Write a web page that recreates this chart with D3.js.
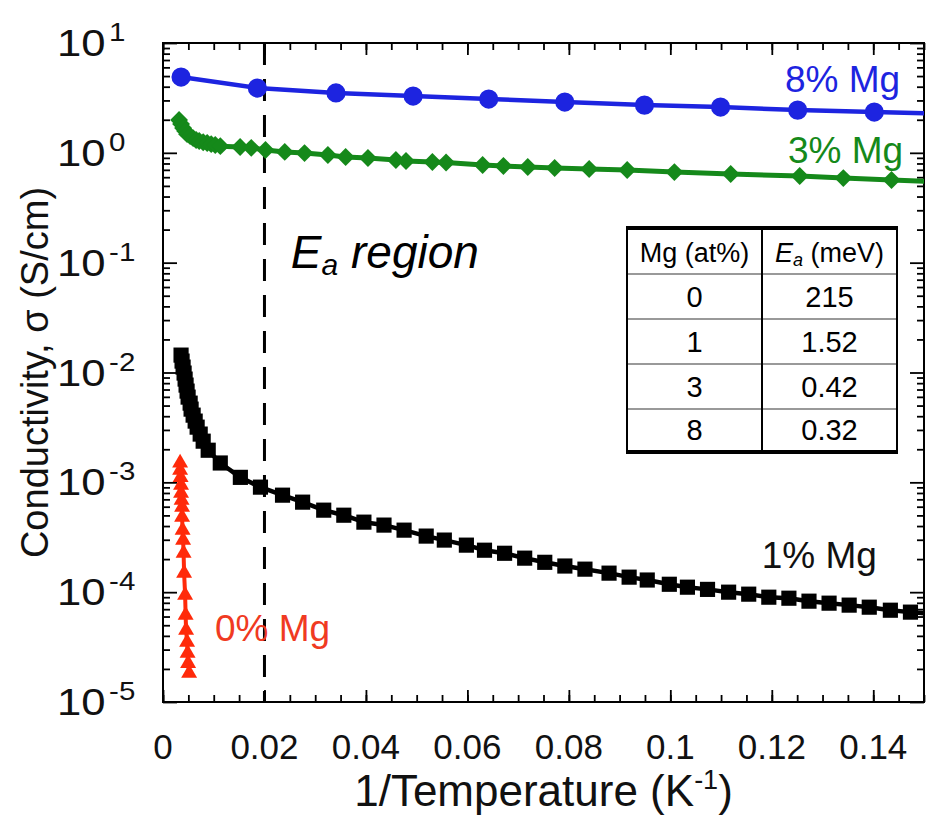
<!DOCTYPE html>
<html>
<head>
<meta charset="utf-8">
<script src="https://cdn.jsdelivr.net/npm/d3@7"></script>
<style>
body{margin:0;background:#fff}
text{font-family:"Liberation Sans",Arial,sans-serif}
</style>
</head>
<body>
<svg id="chart"></svg>
<script>
// 8% Mg (blue circles)
var mg8X=[0.00356,0.0186,0.0341,0.0493,0.0642,0.0792,0.0949,0.1099,0.1251,0.1402,0.1553]
var mg8Y=[4.90,3.89,3.51,3.29,3.09,2.90,2.72,2.61,2.45,2.35,2.27]
// 3% Mg (green diamonds)
var mg3X=[0.00317,0.00356,0.00396,0.00436,0.00475,0.00535,0.00594,0.00653,0.00713,0.00792,0.00871,0.00950,0.0103,0.0113,
  0.0152,0.0174,0.0202,0.0240,0.0279,0.0325,0.0360,0.0404,0.0459,0.0479,0.0531,0.0558,0.0630,0.0671,0.0719,0.0772,
  0.0840,0.0915,0.1008,0.1119,0.1255,0.1341,0.1436,0.1549]
var mg3Y=[1.99,1.83,1.68,1.58,1.48,1.42,1.36,1.31,1.28,1.25,1.23,1.20,1.18,1.15,
  1.13,1.11,1.06,1.02,0.995,0.955,0.916,0.897,0.860,0.842,0.824,0.816,0.774,0.759,0.743,0.727,
  0.712,0.697,0.668,0.641,0.615,0.589,0.565,0.542]
// 1% Mg (black squares)
var mg1X=[0.00356,0.00376,0.00396,0.00416,0.00436,0.00455,0.00475,0.00495,0.00535,0.00554,0.00594,0.00634,0.00673,0.00733,
  0.00792,0.00891,0.01129,0.01525,0.01921,0.02356,0.02752,0.03168,0.03564,0.03960,0.04356,0.04752,0.05188,0.05545,
  0.05980,0.06337,0.06733,0.07129,0.07525,0.07921,0.08317,0.08792,0.09188,0.09545,0.09980,0.10337,0.10733,0.11149,
  0.11545,0.11941,0.12337,0.12733,0.13129,0.13525,0.13921,0.14337,0.14733,0.15188]
var mg1Y=[0.01440,0.01270,0.01120,0.00988,0.00871,0.00768,0.00677,0.00597,0.00526,0.00464,0.00409,0.00361,0.00318,0.00275,
  0.00237,0.00196,0.00150,0.00111,0.000904,0.000764,0.000660,0.000558,0.000502,0.000434,0.000408,0.000367,0.000324,0.000298,
  0.000268,0.000241,0.000226,0.000204,0.000187,0.000173,0.000162,0.000149,0.000137,0.000129,0.000118,0.000111,0.000106,0.000100,
  0.0000959,0.0000900,0.0000881,0.0000828,0.0000794,0.0000762,0.0000730,0.0000685,0.0000658,0.0000631]
// 0% Mg (red triangles)
var mg0X=[0.00337,0.00337,0.00347,0.00356,0.00356,0.00366,0.00376,0.00376,0.00386,0.00396,0.00406,0.00416,0.00436,
  0.00446,0.00455,0.00475,0.00485,0.00495,0.00515]
var mg0Y=[1.50e-3,1.29e-3,1.11e-3,9.42e-4,7.98e-4,6.89e-4,5.94e-4,4.82e-4,3.67e-4,2.98e-4,2.26e-4,1.49e-4,9.39e-5,
  6.18e-5,4.51e-5,3.51e-5,2.78e-5,2.25e-5,1.83e-5]

var seriesNames=["8% Mg","3% Mg","1% Mg","0% Mg"]
var xTicks=[0,0.02,0.04,0.06,0.08,0.1,0.12,0.14]
var xTickLabels=["0","0.02","0.04","0.06","0.08","0.1","0.12","0.14"]
var yExps=[1,0,-1,-2,-3,-4,-5]
var tableHead=["Mg (at%)","(meV)"]
var tableMg=["0","1","3","8"]
var tableEa=["215","1.52","0.42","0.32"]

var W=932,H=825
var m={top:43,left:163,right:8,bottom:123}
var svg=d3.select("#chart").attr("width",W).attr("height",H)

var x=d3.scaleLinear().domain([0,0.15]).range([m.left,W-m.right])
var y=d3.scaleLog().domain([1e-5,10]).range([H-m.bottom,m.top])

svg.append("clipPath").attr("id","clip").append("rect")
  .attr("x",m.left).attr("y",m.top).attr("width",x.range()[1]-m.left).attr("height",y.range()[0]-m.top)

// ticks
var xMinor=d3.range(0,0.1501,0.005)
var yMinor=[]
d3.range(-5,1).forEach(function(e){for(var k=2;k<10;k++)yMinor.push(k*Math.pow(10,e))})
var yMajor=yExps.map(function(e){return Math.pow(10,e)})

function tickAxis(axis,vals,size,tr){
  var g=svg.append("g").attr("transform",tr)
    .call(axis.tickValues(vals).tickSizeInner(size).tickSizeOuter(0).tickFormat(""))
  g.select(".domain").remove()
  g.selectAll(".tick line").attr("stroke","#000").attr("stroke-width",1.8)
}
var yb=y.range()[0], xr=x.range()[1]
tickAxis(d3.axisBottom(x),xMinor,-7,"translate(0,"+yb+")")
tickAxis(d3.axisBottom(x),xTicks,-12,"translate(0,"+yb+")")
tickAxis(d3.axisTop(x),xMinor,-7,"translate(0,"+m.top+")")
tickAxis(d3.axisTop(x),xTicks,-12,"translate(0,"+m.top+")")
tickAxis(d3.axisLeft(y),yMinor,-7,"translate("+m.left+",0)")
tickAxis(d3.axisLeft(y),yMajor,-14,"translate("+m.left+",0)")
tickAxis(d3.axisRight(y),yMinor,-7,"translate("+xr+",0)")
tickAxis(d3.axisRight(y),yMajor,-14,"translate("+xr+",0)")

svg.append("rect").attr("x",m.left).attr("y",m.top)
  .attr("width",xr-m.left).attr("height",yb-m.top)
  .attr("fill","none").attr("stroke","#000").attr("stroke-width",2)

// x tick labels
svg.selectAll(".xl").data(xTicks).enter().append("text")
  .attr("x",function(d){return x(d)}).attr("y",yb+57)
  .attr("text-anchor","middle").attr("font-size",35).attr("fill","#111")
  .text(function(d,i){return xTickLabels[i]})

// y tick labels 10^n
var yl=svg.selectAll(".yl").data(yExps).enter().append("text")
  .attr("transform",function(d){return "translate(57,"+(y(Math.pow(10,d))+13)+") scale(1.18,1)"})
  .attr("font-size",37).attr("fill","#111")
yl.append("tspan").text("10")
yl.append("tspan").attr("dx",3).attr("dy",-15).attr("font-size",25).text(function(d){return d})

// axis titles
var xt=svg.append("text").attr("x",(m.left+xr)/2).attr("y",806).attr("text-anchor","middle")
  .attr("font-size",44).attr("fill","#111")
xt.append("tspan").text("1/Temperature (K")
xt.append("tspan").attr("dy",-17).attr("font-size",27).text("-1")
xt.append("tspan").attr("dy",17).text(")")

svg.append("text").attr("transform","translate(48,"+((m.top+yb)/2)+") rotate(-90)")
  .attr("text-anchor","middle").attr("font-size",38).attr("fill","#111")
  .text("Conductivity, \u03c3 (S/cm)")

// dashed E_a line at 0.02
svg.append("line").attr("x1",x(0.02)).attr("x2",x(0.02)).attr("y1",m.top).attr("y2",yb)
  .attr("stroke","#000").attr("stroke-width",3).attr("stroke-dasharray","22,14")

// series
var plot=svg.append("g").attr("clip-path","url(#clip)")
var line=d3.line().x(function(d){return x(d[0])}).y(function(d){return y(d[1])})
function series(xs,ys,color,lw,sym,size,rot){
  var pts=d3.zip(xs,ys)
  plot.append("path").datum(pts).attr("d",line).attr("fill","none")
    .attr("stroke",color).attr("stroke-width",lw).attr("stroke-linejoin","round")
  plot.selectAll(null).data(pts).enter().append("path")
    .attr("d",d3.symbol().type(sym).size(size))
    .attr("transform",function(d){return "translate("+x(d[0])+","+y(d[1])+") rotate("+rot+")"})
    .attr("fill",color)
}
series(mg8X,mg8Y,"#1d24e0",4.5,d3.symbolCircle,290,0)
series(mg3X,mg3Y,"#15891a",5,d3.symbolSquare,160,45)
series(mg1X,mg1Y,"#000",4.5,d3.symbolSquare,230,0)
series(mg0X,mg0Y,"#ff2a0a",4,d3.symbolTriangle,110,0)

// series labels
var labs=[
  {t:seriesNames[0],x:0.1453,y:3.58,c:"#1d24e0",a:"end"},
  {t:seriesNames[1],x:0.1459,y:0.808,c:"#15891a",a:"end"},
  {t:seriesNames[2],x:0.1407,y:1.66e-4,c:"#111",a:"end"},
  {t:seriesNames[3],x:0.01025,y:3.59e-5,c:"#f03a22",a:"start"}]
svg.selectAll(".sl").data(labs).enter().append("text")
  .attr("x",function(d){return x(d.x)}).attr("y",function(d){return y(d.y)})
  .attr("text-anchor",function(d){return d.a}).attr("fill",function(d){return d.c})
  .attr("font-size",37).text(function(d){return d.t})

// E_a region
var ea=svg.append("text").attr("x",x(0.0252)).attr("y",y(0.0894))
  .attr("font-size",46).attr("font-style","italic").attr("fill","#000")
ea.append("tspan").text("E")
ea.append("tspan").attr("dy",7).attr("font-size",30).text("a")
ea.append("tspan").attr("dy",-7).text(" region")

// inset table
var tx=[627,762,897], ty=[228,274,319,364,409,452]
var tb=svg.append("g")
tb.selectAll(".hl").data(ty.slice(1,5)).enter().append("line")
  .attr("x1",tx[0]).attr("x2",tx[2]).attr("y1",function(d){return d}).attr("y2",function(d){return d})
  .attr("stroke","#999").attr("stroke-width",2)
tb.selectAll(".vl").data(tx).enter().append("line")
  .attr("x1",function(d){return d}).attr("x2",function(d){return d}).attr("y1",ty[0]).attr("y2",ty[5])
  .attr("stroke","#000").attr("stroke-width",2)
tb.selectAll(".bl").data([ty[0],ty[5]]).enter().append("line")
  .attr("x1",tx[0]-1).attr("x2",tx[2]+1).attr("y1",function(d){return d}).attr("y2",function(d){return d})
  .attr("stroke","#000").attr("stroke-width",4)
var c1=(tx[0]+tx[1])/2, c2=(tx[1]+tx[2])/2
tb.append("text").attr("x",c1).attr("y",ty[1]-12).attr("text-anchor","middle")
  .attr("font-family","Lato").attr("font-size",27).text(tableHead[0])
var h2=tb.append("text").attr("x",c2).attr("y",ty[1]-12).attr("text-anchor","middle")
  .attr("font-family","Lato").attr("font-size",27)
h2.append("tspan").attr("font-style","italic").text("E")
h2.append("tspan").attr("font-style","italic").attr("font-size",18).attr("dy",4).text("a")
h2.append("tspan").attr("dy",-4).text(" "+tableHead[1])
tb.selectAll(".c1").data(tableMg).enter().append("text")
  .attr("x",c1).attr("y",function(d,i){return ty[i+2]-12}).attr("text-anchor","middle")
  .attr("font-family","Lato").attr("font-size",29).text(function(d){return d})
tb.selectAll(".c2").data(tableEa).enter().append("text")
  .attr("x",c2).attr("y",function(d,i){return ty[i+2]-12}).attr("text-anchor","middle")
  .attr("font-family","Lato").attr("font-size",29).text(function(d){return d})
</script>
</body>
</html>
